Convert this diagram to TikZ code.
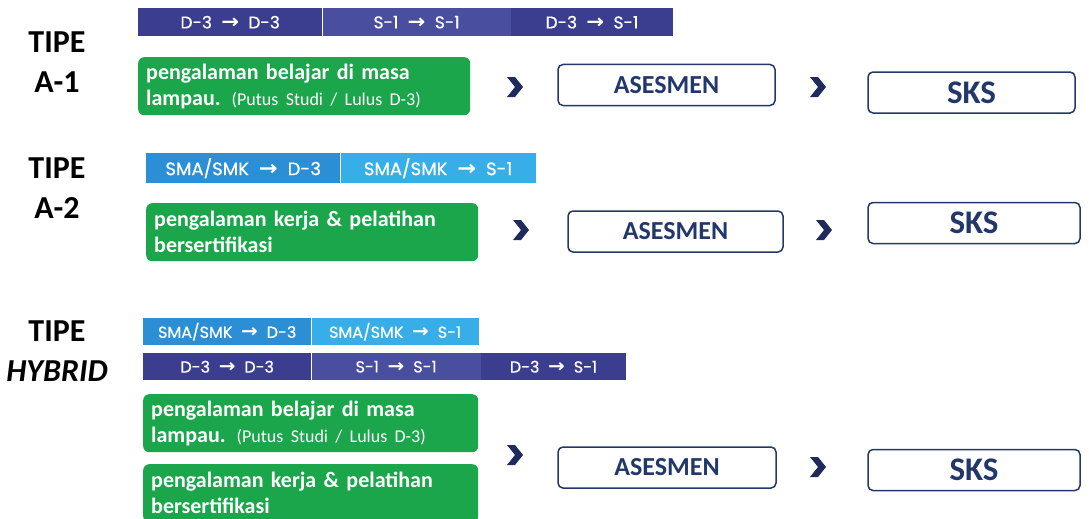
\documentclass[tikz,border=0pt]{standalone}
\usepackage{fontspec}
\setmainfont{Carlito}
\newfontfamily\barfont[FakeBold=0.6]{Poppins}
\newfontfamily\arrowfont{DejaVu Sans}
\usetikzlibrary{positioning,calc}
\definecolor{navybar}{HTML}{3B3D8F}
\definecolor{navybarlt}{HTML}{4A4E9E}
\definecolor{skybar}{HTML}{2C8FD6}
\definecolor{skybarlt}{HTML}{38AEE8}
\definecolor{greenbox}{HTML}{1BA64B}
\definecolor{navyline}{HTML}{22376A}
\definecolor{navychev}{HTML}{1E2B5C}
\newcommand{\tto}{\hspace{0.55em}{\arrowfont\bfseries\scalebox{1.25}[1.15]{→}}\hspace{0.55em}}

\tikzset{
  seg/.style={minimum height=#1, inner sep=0pt, text=white},
  segA/.style={seg=28pt, font=\barfont\fontsize{17}{19}\selectfont},
  segB/.style={seg=30pt, font=\barfont\fontsize{18}{20}\selectfont},
  segC/.style={seg=27pt, font=\barfont\fontsize{16}{18}\selectfont},
  tipe/.style={font=\bfseries\fontsize{32}{40}\selectfont, align=center},
  pengalaman/.style={fill=greenbox, rounded corners=6pt, text=white, anchor=north west,
    align=left, text width=#1, inner xsep=8pt, inner ysep=3pt, minimum height=58pt,
    font=\bfseries\fontsize{22}{26}\selectfont},
  kotak/.style={draw=navyline, line width=1.5pt, rounded corners=5pt, text=navyline,
    minimum width=#1, minimum height=41pt, inner sep=0pt},
  ases/.style={kotak=#1, font=\bfseries\fontsize{26}{28}\selectfont},
  sks/.style={kotak=#1, font=\bfseries\fontsize{33}{34}\selectfont},
  chev/.pic={\fill[navychev] (-8,-10) -- (0,-10) -- (8,0) -- (0,10) -- (-8,10) -- (0,0) -- cycle;}
}
\newcommand{\lulus}{{\mdseries\fontsize{18}{26}\selectfont (Putus Studi / Lulus D-3)}}

\begin{document}
\begin{tikzpicture}[x=1pt,y=-1pt]
\useasboundingbox (0,0) rectangle (1089,519);

% tipe A-1
\node[tipe] (tA1) at (57,62) {TIPE\\A-1};
\node[segA, fill=navybar, minimum width=184pt, anchor=north west] (a1s1) at (138,8) {D-3\tto D-3};
\node[segA, fill=navybarlt, minimum width=188pt, right=0pt of a1s1] (a1s2) {S-1\tto S-1};
\node[segA, fill=navybar, minimum width=162pt, right=0pt of a1s2] (a1s3) {D-3\tto S-1};
\node[pengalaman=316pt] (a1g) at (138,57) {pengalaman belajar di masa\\lampau. \lulus};
\pic at (515,87) {chev};
\node[ases=217pt] (a1as) at (666.5,85) {ASESMEN};
\pic at (818,87) {chev};
\node[sks=207pt] (a1sk) at (971.5,92.5) {SKS};

% tipe A-2
\node[tipe] (tA2) at (57,188) {TIPE\\A-2};
\node[segB, fill=skybar, minimum width=194pt, anchor=north west] (a2s1) at (146,153) {SMA/SMK\tto D-3};
\node[segB, fill=skybarlt, minimum width=195pt, right=0pt of a2s1] (a2s2) {SMA/SMK\tto S-1};
\node[pengalaman=316pt] (a2g) at (146,203) {pengalaman kerja \& pelatihan\\bersertifikasi};
\pic at (521,230) {chev};
\node[ases=215pt] (a2as) at (675.5,231.5) {ASESMEN};
\pic at (824,230) {chev};
\node[sks=212pt] (a2sk) at (974,223) {SKS};

% tipe hybrid
\node[tipe] (tH) at (57,351) {TIPE\\\textit{HYBRID}};
\node[segC, fill=skybar, minimum width=168pt, anchor=north west] (hs1) at (143,318) {SMA/SMK\tto D-3};
\node[segC, fill=skybarlt, minimum width=167pt, right=0pt of hs1] (hs2) {SMA/SMK\tto S-1};
\node[segC, fill=navybar, minimum width=168pt, anchor=north west] (hd1) at (143,353) {D-3\tto D-3};
\node[segC, fill=navybarlt, minimum width=169pt, right=0pt of hd1] (hd2) {S-1\tto S-1};
\node[segC, fill=navybar, minimum width=145pt, right=0pt of hd2] (hd3) {D-3\tto S-1};
\node[pengalaman=319pt] (hg1) at (143,394) {pengalaman belajar di masa\\lampau. \lulus};
\node[pengalaman=319pt] (hg2) at (143,464) {pengalaman kerja \& pelatihan\\bersertifikasi};
\pic at (515,455) {chev};
\node[ases=218pt] (has) at (667,467.5) {ASESMEN};
\pic at (818,467) {chev};
\node[sks=212pt] (hsk) at (974,470) {SKS};
\end{tikzpicture}
\end{document}
